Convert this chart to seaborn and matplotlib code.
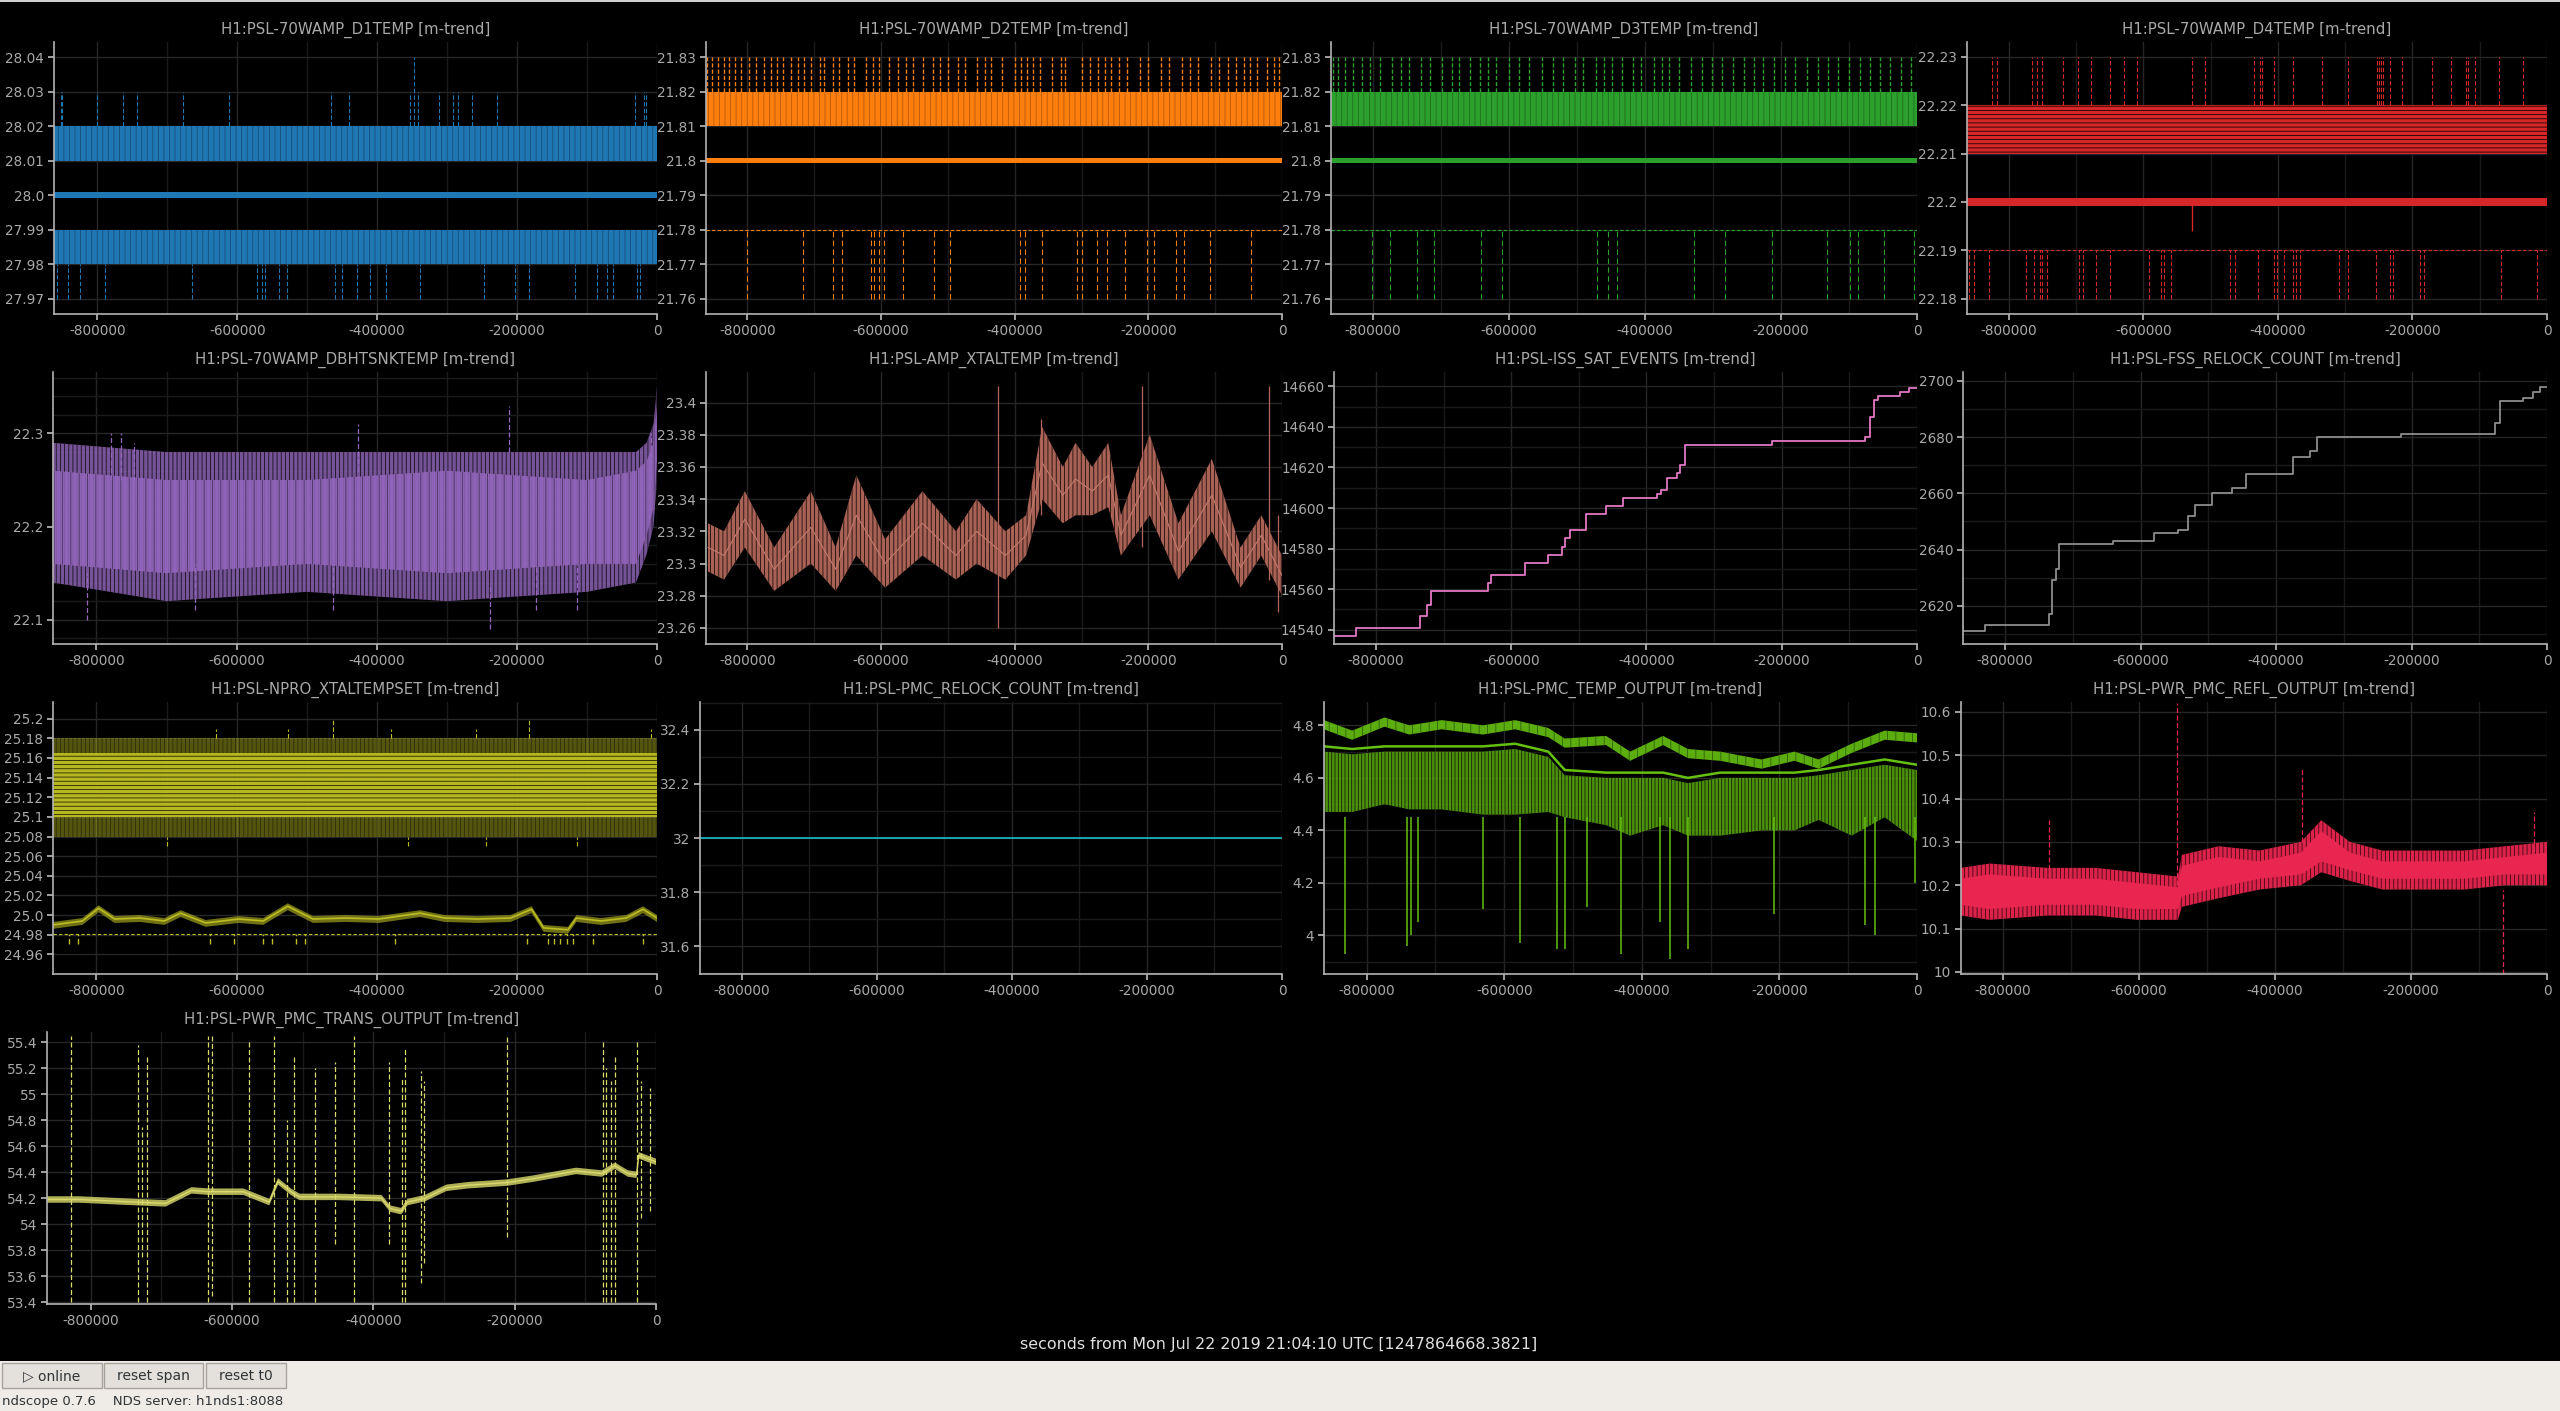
import matplotlib
matplotlib.use("Agg")
from matplotlib import pyplot as plt
from matplotlib.patches import Rectangle
from matplotlib.ticker import MultipleLocator
import seaborn as sns

W, H = 2560, 1411

# ---------------- data ----------------
XLIM = (-862000, 0)
XTICKS = [-800000, -600000, -400000, -200000, 0]
XTICK_LABELS = ['-800000', '-600000', '-400000', '-200000', '0']
T_SPAN = [-862000, 0]

# D1TEMP (blue)
d1_max_lo, d1_max_hi = 28.01, 28.02
d1_mean_lo, d1_mean_hi = 27.9992, 28.0008
d1_min_lo, d1_min_hi = 27.98, 27.99
d1_up_t = [-852000, -851000, -800000, -764000, -744000, -678000, -612000, -466000, -441000,
           -353000, -347000, -341000, -312000, -292000, -285000, -265000, -229000, -32000,
           -18000, -16000]
d1_up_top = [28.03, 28.03, 28.03, 28.03, 28.03, 28.03, 28.03, 28.03, 28.03,
             28.03, 28.04, 28.03, 28.03, 28.03, 28.03, 28.03, 28.03, 28.03,
             28.03, 28.03]
d1_dn_t = [-857000, -842000, -825000, -789000, -665000, -572000, -565000, -560000, -541000,
           -529000, -460000, -451000, -429000, -410000, -387000, -339000, -248000, -203000,
           -183000, -117000, -86000, -72000, -63000, -29000, -24000]
d1_dn_bottom = 27.97

# D2TEMP (orange)
d2_max_lo, d2_max_hi = 21.81, 21.82
d2_mean_lo, d2_mean_hi = 21.7993, 21.8009
d2_min_level = 21.78
d2_up_top = 21.83
d2_dn_bottom = 21.76
d2_up_t = [-860000, -852500, -843750, -835000, -827500, -818750, -810000, -797500, -787500,
           -775000, -765000, -756250, -747500, -735000, -725000, -715000, -705000, -691250,
           -685000, -672500, -662500, -650000, -640000, -622500, -612500, -602500, -587500,
           -575000, -562500, -552500, -537500, -522500, -512500, -500000, -485000, -475000,
           -456250, -443750, -435000, -418750, -400000, -390000, -381250, -372500, -362500,
           -343750, -331250, -325000, -300000, -287500, -275000, -265000, -256250, -243750,
           -231250, -212500, -200000, -181250, -168750, -150000, -137500, -125000, -106250,
           -93750, -81250, -68750, -56250, -47500, -37500, -22500, -12500, -5000]
d2_dn_t = [-800000, -717500, -672500, -658750, -615000, -610000, -603750, -596250, -567500,
           -521250, -497500, -392500, -385000, -358750, -307500, -298750, -277500, -262500,
           -235000, -202500, -191250, -158750, -146250, -107500, -46250]

# D3TEMP (green)
d3_max_lo, d3_max_hi = 21.81, 21.82
d3_mean_lo, d3_mean_hi = 21.7993, 21.8009
d3_min_level = 21.78
d3_up_top = 21.83
d3_dn_bottom = 21.76
d3_up_t = [-859600, -851000, -841300, -829100, -816800, -804600, -790000, -771700, -759500,
           -747300, -729000, -716700, -698400, -683800, -674000, -658100, -643500, -631300,
           -619000, -600700, -584900, -570200, -551900, -536000, -521400, -503100, -490800,
           -472500, -460300, -448100, -433500, -417600, -405400, -387100, -374800, -365100,
           -350400, -332100, -316200, -301600, -286900, -271100, -255200, -240500, -225900,
           -210000, -194100, -179500, -161200, -145300, -130600, -116000, -100100, -84200,
           -69600, -54900, -39100, -23200, -8500]
d3_dn_t = [-801000, -775000, -736000, -711000, -642000, -610000, -470000, -454000, -442000,
           -328000, -283000, -214000, -133000, -98000, -87000, -49000, -5000]

# D4TEMP (red)
d4_max_lo, d4_max_hi = 22.21, 22.22
d4_mean_lo, d4_mean_hi = 22.1992, 22.2009
d4_min_level = 22.19
d4_up_top = 22.23
d4_dn_bottom = 22.18
d4_glitch_t, d4_glitch_bottom = -528000, 22.194
d4_up_t = [-825000, -818000, -765000, -758000, -750000, -719000, -697000, -678000, -650000,
           -629000, -609000, -528000, -509000, -436000, -426000, -423000, -405000, -378000,
           -335000, -296000, -253000, -250000, -247000, -244000, -234000, -215000, -171000,
           -143000, -120000, -117000, -107000, -72000, -35000]
d4_dn_t = [-859000, -851000, -829000, -774000, -763000, -753000, -750000, -743000, -696000,
           -689000, -670000, -649000, -591000, -574000, -569000, -559000, -471000, -463000,
           -430000, -405000, -402000, -391000, -377000, -373000, -367000, -309000, -296000,
           -254000, -233000, -229000, -189000, -183000, -68000, -15000]

# DBHTSNKTEMP (purple)
hs_t = [-862000, -700000, -500000, -300000, -100000, -30000, -15000, -5000, 0]
hs_outer_lo = [22.14, 22.12, 22.13, 22.12, 22.13, 22.14, 22.17, 22.20, 22.25]
hs_outer_hi = [22.29, 22.28, 22.28, 22.28, 22.28, 22.28, 22.29, 22.31, 22.35]
hs_inner_lo = [22.16, 22.15, 22.16, 22.15, 22.16, 22.16, 22.19, 22.22, 22.27]
hs_inner_hi = [22.26, 22.25, 22.25, 22.26, 22.25, 22.26, 22.27, 22.29, 22.33]
hs_up_t = [-779800, -764500, -746900, -426400, -210900, -8200]
hs_up_top = [22.30, 22.30, 22.29, 22.31, 22.33, 22.30]
hs_dn_t = [-812800, -659700, -461800, -238000, -173200, -114300]
hs_dn_bottom = [22.10, 22.11, 22.11, 22.09, 22.11, 22.11]

# AMP_XTALTEMP (brown)
xt_t = [-859000, -835000, -804000, -760000, -705000, -668000, -637000, -594000, -538000,
        -488000, -457000, -414000, -383000, -359000, -328000, -309000, -284000, -260000,
        -241000, -198000, -155000, -105000, -62000, -31000, 0]
xt_lo = [23.295, 23.29, 23.31, 23.283, 23.30, 23.283, 23.305, 23.285, 23.305,
         23.29, 23.30, 23.29, 23.305, 23.34, 23.325, 23.33, 23.33, 23.335,
         23.305, 23.33, 23.29, 23.32, 23.285, 23.305, 23.28]
xt_hi = [23.325, 23.32, 23.345, 23.31, 23.345, 23.31, 23.355, 23.315, 23.345,
         23.32, 23.34, 23.32, 23.33, 23.385, 23.36, 23.375, 23.36, 23.375,
         23.33, 23.38, 23.325, 23.365, 23.31, 23.33, 23.305]
xt_spk_t = [-425000, -360000, -210000, -20000, -6000]
xt_spk_lo = [23.26, 23.33, 23.31, 23.29, 23.27]
xt_spk_hi = [23.41, 23.39, 23.41, 23.41, 23.33]

# ISS_SAT_EVENTS (pink steps)
iss_t = [-862000, -830000, -735000, -725000, -718000, -635000, -630000, -580000, -545000,
         -525000, -520000, -513000, -490000, -460000, -435000, -385000, -378000, -370000,
         -355000, -350000, -343000, -215000, -77000, -70000, -63000, -58000, -25000, -12000, 0]
iss_v = [14537, 14541, 14547, 14552, 14559, 14563, 14567, 14573, 14577,
         14581, 14585, 14589, 14597, 14601, 14605, 14607, 14609, 14615,
         14617, 14621, 14631, 14633, 14635, 14645, 14653, 14655, 14657, 14659, 14659]

# FSS_RELOCK_COUNT (gray steps)
fss_t = [-862000, -830000, -735000, -730000, -725000, -720000, -640000, -580000, -545000,
         -530000, -520000, -495000, -465000, -445000, -375000, -350000, -340000, -215000,
         -77000, -70000, -35000, -20000, -10000, 0]
fss_v = [2611, 2613, 2617, 2629, 2633, 2642, 2643, 2646, 2647,
         2652, 2656, 2660, 2662, 2667, 2673, 2675, 2680, 2681,
         2685, 2693, 2694, 2696, 2698, 2698]

# NPRO_XTALTEMPSET (olive)
np_up_outer = (25.08, 25.18)
np_up_core = (25.10, 25.165)
np_up_spk_t = [-629000, -526600, -461800, -379300, -258000, -182600, -8200]
np_up_spk_top = [25.19, 25.19, 25.20, 25.19, 25.19, 25.20, 25.19]
np_up_dn_t = [-699700, -355800, -243800, -114300]
np_up_dn_bottom = [25.07, 25.07, 25.07, 25.07]
np_t = [-862000, -820000, -797000, -774000, -738000, -703000, -680000, -644000, -597000,
        -562000, -527000, -491000, -444000, -397000, -338000, -303000, -256000, -209000,
        -179000, -162000, -127000, -115000, -80000, -44000, -20000, 0]
np_mean = [24.990, 24.994, 25.007, 24.996, 24.997, 24.994, 25.002, 24.992, 24.996,
           24.994, 25.009, 24.996, 24.997, 24.996, 25.002, 24.997, 24.996, 24.997,
           25.006, 24.987, 24.985, 24.997, 24.994, 24.997, 25.006, 24.997]
np_min_level = 24.981
np_dip_t = [-838700, -827000, -638500, -603100, -561900, -550100, -514800, -503000, -373400,
            -184900, -155500, -147300, -137800, -128400, -120200, -90700, -20000]
np_dip_bottom = 24.971

# PMC_RELOCK_COUNT (cyan)
relock_t = [-862000, 0]
relock_v = [32, 32]

# PMC_TEMP_OUTPUT (bright green)
pt_t = [-862000, -821000, -774000, -738000, -691000, -631000, -584000, -536000, -512000,
        -452000, -417000, -369000, -333000, -286000, -226000, -178000, -143000, -95000,
        -47000, 0]
pt_top = [4.82, 4.78, 4.83, 4.80, 4.82, 4.80, 4.82, 4.79, 4.75,
          4.76, 4.70, 4.76, 4.71, 4.70, 4.67, 4.70, 4.67, 4.73, 4.78, 4.77]
pt_mean = [4.72, 4.71, 4.72, 4.72, 4.72, 4.72, 4.73, 4.70, 4.63,
           4.62, 4.62, 4.62, 4.60, 4.62, 4.62, 4.62, 4.63, 4.65, 4.67, 4.65]
pt_bottom = [4.47, 4.47, 4.50, 4.48, 4.48, 4.46, 4.46, 4.47, 4.45,
             4.42, 4.38, 4.42, 4.38, 4.38, 4.40, 4.40, 4.44, 4.38, 4.45, 4.36]
pt_spk_t = [-830800, -741400, -735500, -726000, -630600, -576900, -523300, -511400, -479200,
            -430300, -374300, -358800, -332600, -207400, -76300, -60800, -2400]
pt_spk_bottom = [3.93, 3.96, 4.00, 4.05, 4.10, 3.97, 3.95, 3.95, 4.11,
                 3.93, 4.05, 3.91, 3.95, 4.08, 4.04, 4.00, 4.20]

# PWR_PMC_REFL_OUTPUT (crimson)
rf_t = [-862000, -820000, -735000, -664000, -603000, -543000, -537000, -483000, -423000,
        -362000, -332000, -290000, -242000, -182000, -122000, -61000, 0]
rf_lo = [10.13, 10.12, 10.13, 10.13, 10.12, 10.12, 10.15, 10.17, 10.19,
         10.20, 10.23, 10.21, 10.19, 10.19, 10.19, 10.20, 10.20]
rf_hi = [10.24, 10.25, 10.24, 10.24, 10.23, 10.22, 10.27, 10.29, 10.28,
         10.30, 10.35, 10.30, 10.28, 10.28, 10.28, 10.29, 10.30]
rf_spk_t = [-733000, -545000, -360000, -65000, -19000]
rf_spk_lo = [10.22, 10.20, 10.30, 9.995, 10.28]
rf_spk_hi = [10.35, 10.62, 10.47, 10.19, 10.37]

# PWR_PMC_TRANS_OUTPUT (pale yellow)
tr_t = [-862000, -816500, -737000, -694200, -657500, -633000, -584100, -547400, -535100,
        -516800, -504600, -449500, -388400, -376300, -360800, -351700, -327200, -296600,
        -266000, -211000, -174300, -113100, -76500, -58100, -39800, -27500, -24500, 0]
tr_mean = [54.19, 54.19, 54.17, 54.16, 54.26, 54.25, 54.25, 54.17, 54.33,
           54.25, 54.21, 54.21, 54.20, 54.12, 54.10, 54.17, 54.20, 54.28,
           54.30, 54.32, 54.35, 54.41, 54.39, 54.45, 54.39, 54.38, 54.53, 54.48]
tr_spk_t = [-828700, -733300, -727800, -719900, -634800, -628100, -576700, -540000, -521700,
            -512500, -483200, -453800, -427500, -377400, -359600, -354700, -333300, -328400,
            -211000, -74600, -70300, -64200, -58100, -26300, -21400, -9200]
tr_spk_hi = [55.45, 55.38, 54.75, 55.30, 55.45, 55.45, 55.40, 55.45, 54.80,
             55.30, 55.20, 55.25, 55.45, 55.25, 55.12, 55.35, 55.18, 55.10,
             55.45, 55.42, 55.20, 55.10, 55.30, 55.42, 55.10, 55.05]
tr_spk_lo = [53.40, 53.40, 53.75, 53.40, 53.40, 53.45, 53.40, 53.40, 53.40,
             53.40, 53.40, 53.85, 53.40, 53.85, 53.40, 53.40, 53.55, 53.70,
             53.90, 53.40, 53.40, 53.40, 53.40, 53.40, 54.05, 54.10]

TXT = '#a9a9a9'
GRID = '#262626'
GRID_MINOR = '#1a1a1a'

sns.set_theme(style='dark', rc={
    'figure.facecolor': 'black',
    'axes.facecolor': 'black',
    'axes.edgecolor': '#b4b4b4',
    'axes.linewidth': 1.2,
    'xtick.color': TXT,
    'ytick.color': TXT,
    'xtick.bottom': True,
    'ytick.left': True,
    'xtick.major.size': 4,
    'ytick.major.size': 4,
    'xtick.labelsize': 9.8,
    'ytick.labelsize': 9.8,
    'hatch.linewidth': 0.6,
    'axes.unicode_minus': False,
})
plt.rcParams['font.family'] = ['DejaVu Sans']

fig = plt.figure(figsize=(W / 100, H / 100), dpi=100)


def place(left, top, right, bottom):
    return fig.add_axes([left / W, 1 - bottom / H, (right - left) / W, (bottom - top) / H])


def style(ax, title, ylim, yticks, ylabels, yminor=None):
    ax.set_xlim(*XLIM)
    ax.set_ylim(*ylim)
    ax.set_xticks(XTICKS)
    ax.set_xticklabels(XTICK_LABELS)
    ax.set_yticks(yticks)
    ax.set_yticklabels(ylabels)
    ax.xaxis.set_minor_locator(MultipleLocator(100000))
    if yminor:
        ax.yaxis.set_minor_locator(MultipleLocator(yminor))
    ax.tick_params(which='minor', length=0)
    ax.tick_params(which='major', color='#b4b4b4', pad=3)
    ax.grid(which='major', color=GRID, lw=1.0)
    ax.grid(which='minor', color=GRID_MINOR, lw=1.0)
    ax.set_axisbelow(True)
    for s in ['top', 'right']:
        ax.spines[s].set_visible(False)
    ax.set_xlabel('')
    ax.set_ylabel('')
    ax.set_title(title, color=TXT, fontsize=10.8, pad=6)


def trace(ax, t, v, color, lw=1.2, **kw):
    sns.lineplot(x=t, y=v, ax=ax, color=color, linewidth=lw, estimator=None,
                 legend=False, **kw)


def band(ax, t, lo, hi, color, alpha=1.0, hatch=None, hatch_color='black'):
    ax.fill_between(t, lo, hi, facecolor=color, alpha=alpha, lw=0,
                    hatch=hatch, edgecolor=hatch_color if hatch else 'none')


def dash_v(ax, t, lo, hi, color, lw=0.8, ls=(0, (4, 2)), alpha=1.0):
    ax.vlines(t, lo, hi, colors=color, linestyles=[ls], linewidth=lw, alpha=alpha)


# ---------------- row 1 ----------------
c = '#1f77b4'
ax = place(54, 42, 657, 314)
band(ax, T_SPAN, d1_max_lo, d1_max_hi, c, hatch='|||', hatch_color='#174f78')
band(ax, T_SPAN, d1_min_lo, d1_min_hi, c, hatch='|||', hatch_color='#174f78')
band(ax, T_SPAN, d1_mean_lo, d1_mean_hi, c)
trace(ax, T_SPAN, [28.0, 28.0], c, lw=1.5)
dash_v(ax, d1_up_t, d1_max_hi, d1_up_top, c)
dash_v(ax, d1_dn_t, d1_dn_bottom, d1_min_lo, c)
style(ax, 'H1:PSL-70WAMP_D1TEMP [m-trend]', (27.9656, 28.0444),
      [27.97, 27.98, 27.99, 28.0, 28.01, 28.02, 28.03, 28.04],
      ['27.97', '27.98', '27.99', '28.0', '28.01', '28.02', '28.03', '28.04'])

c = '#ff7f0e'
ax = place(706, 42, 1282, 314)
band(ax, T_SPAN, d2_max_lo, d2_max_hi, c, hatch='|||', hatch_color='#b85a08')
band(ax, T_SPAN, d2_mean_lo, d2_mean_hi, c)
trace(ax, T_SPAN, [21.8, 21.8], c, lw=1.5)
trace(ax, T_SPAN, [d2_min_level, d2_min_level], c, lw=0.8, linestyle=(0, (3, 2)))
dash_v(ax, d2_up_t, d2_max_hi, d2_up_top, c, lw=1.0, ls=(0, (3, 1.5)))
dash_v(ax, d2_dn_t, d2_dn_bottom, d2_min_level, c, ls=(0, (5, 3)))
style(ax, 'H1:PSL-70WAMP_D2TEMP [m-trend]', (21.7556, 21.8344),
      [21.76, 21.77, 21.78, 21.79, 21.8, 21.81, 21.82, 21.83],
      ['21.76', '21.77', '21.78', '21.79', '21.8', '21.81', '21.82', '21.83'])

c = '#2ca02c'
ax = place(1331, 42, 1917, 314)
band(ax, T_SPAN, d3_max_lo, d3_max_hi, c, hatch='|||', hatch_color='#1f701f')
band(ax, T_SPAN, d3_mean_lo, d3_mean_hi, c)
trace(ax, T_SPAN, [21.8, 21.8], c, lw=1.5)
trace(ax, T_SPAN, [d3_min_level, d3_min_level], c, lw=0.8, linestyle=(0, (3, 2)))
dash_v(ax, d3_up_t, d3_max_hi, d3_up_top, c, lw=1.0, ls=(0, (3, 1.5)))
dash_v(ax, d3_dn_t, d3_dn_bottom, d3_min_level, c, ls=(0, (5, 3)))
style(ax, 'H1:PSL-70WAMP_D3TEMP [m-trend]', (21.7556, 21.8344),
      [21.76, 21.77, 21.78, 21.79, 21.8, 21.81, 21.82, 21.83],
      ['21.76', '21.77', '21.78', '21.79', '21.8', '21.81', '21.82', '21.83'])

c = '#d62728'
ax = place(1967, 42, 2547, 314)
band(ax, T_SPAN, d4_max_lo, d4_max_hi, c, hatch='----', hatch_color='#1a0303')
band(ax, T_SPAN, d4_mean_lo, d4_mean_hi, c)
trace(ax, T_SPAN, [22.2, 22.2], c, lw=1.5)
trace(ax, T_SPAN, [d4_min_level, d4_min_level], c, lw=0.8, linestyle=(0, (3, 2)))
ax.vlines([d4_glitch_t], d4_glitch_bottom, 22.2, colors=c, linewidth=1.0)
dash_v(ax, d4_up_t, d4_max_hi, d4_up_top, c)
dash_v(ax, d4_dn_t, d4_dn_bottom, d4_min_level, c)
style(ax, 'H1:PSL-70WAMP_D4TEMP [m-trend]', (22.1768, 22.2331),
      [22.18, 22.19, 22.2, 22.21, 22.22, 22.23],
      ['22.18', '22.19', '22.2', '22.21', '22.22', '22.23'])

# ---------------- row 2 ----------------
c = '#9467bd'
ax = place(53, 372, 657, 644)
band(ax, hs_t, hs_outer_lo, hs_outer_hi, c, alpha=0.8, hatch='||||', hatch_color='black')
band(ax, hs_t, hs_inner_lo, hs_inner_hi, c, alpha=0.85, hatch='||', hatch_color='#3c2a4f')
dash_v(ax, hs_up_t, [v - 0.05 for v in hs_up_top], hs_up_top, c, lw=0.9)
dash_v(ax, hs_dn_t, hs_dn_bottom, [v + 0.05 for v in hs_dn_bottom], c, lw=0.9)
style(ax, 'H1:PSL-70WAMP_DBHTSNKTEMP [m-trend]', (22.074, 22.366),
      [22.1, 22.2, 22.3], ['22.1', '22.2', '22.3'], yminor=0.02)

c = '#b2675a'
ax = place(706, 372, 1282, 644)
band(ax, xt_t, xt_lo, xt_hi, c, alpha=0.95, hatch='||||', hatch_color='#140806')
trace(ax, xt_t, [(a + b) / 2 for a, b in zip(xt_lo, xt_hi)], '#c27a6c', lw=0.8)
ax.vlines(xt_spk_t, xt_spk_lo, xt_spk_hi, colors=c, linewidth=0.9)
style(ax, 'H1:PSL-AMP_XTALTEMP [m-trend]', (23.250, 23.419),
      [23.26, 23.28, 23.3, 23.32, 23.34, 23.36, 23.38, 23.4],
      ['23.26', '23.28', '23.3', '23.32', '23.34', '23.36', '23.38', '23.4'])

ax = place(1334, 372, 1917, 644)
trace(ax, iss_t, iss_v, '#e377c2', lw=1.3, drawstyle='steps-post')
style(ax, 'H1:PSL-ISS_SAT_EVENTS [m-trend]', (14533, 14667),
      [14540, 14560, 14580, 14600, 14620, 14640, 14660],
      ['14540', '14560', '14580', '14600', '14620', '14640', '14660'], yminor=10)

ax = place(1963, 372, 2547, 644)
trace(ax, fss_t, fss_v, '#8c8c8c', lw=1.3, drawstyle='steps-post')
style(ax, 'H1:PSL-FSS_RELOCK_COUNT [m-trend]', (2606.4, 2703.2),
      [2620, 2640, 2660, 2680, 2700],
      ['2620', '2640', '2660', '2680', '2700'], yminor=10)

# ---------------- row 3 ----------------
c = '#bcbd22'
ax = place(53, 702, 657, 974)
band(ax, T_SPAN, np_up_outer[0], np_up_outer[1], c, alpha=0.45, hatch='||||', hatch_color='black')
band(ax, T_SPAN, np_up_core[0], np_up_core[1], c, alpha=0.95, hatch='----', hatch_color='#1e1e00')
dash_v(ax, np_up_spk_t, np_up_outer[1], np_up_spk_top, c)
dash_v(ax, np_up_dn_t, np_up_dn_bottom, np_up_outer[0], c)
trace(ax, T_SPAN, [np_min_level, np_min_level], c, lw=0.8, linestyle=(0, (3, 2)))
dash_v(ax, np_dip_t, np_dip_bottom, np_min_level, c, lw=1.0)
band(ax, np_t, [v - 0.004 for v in np_mean], [v + 0.003 for v in np_mean], c, alpha=0.6)
trace(ax, np_t, np_mean, c, lw=1.2)
style(ax, 'H1:PSL-NPRO_XTALTEMPSET [m-trend]', (24.940, 25.217),
      [24.96, 24.98, 25.0, 25.02, 25.04, 25.06, 25.08, 25.1, 25.12, 25.14, 25.16, 25.18, 25.2],
      ['24.96', '24.98', '25.0', '25.02', '25.04', '25.06', '25.08', '25.1', '25.12',
       '25.14', '25.16', '25.18', '25.2'])

ax = place(700, 702, 1282, 974)
trace(ax, relock_t, relock_v, '#17becf', lw=1.2)
style(ax, 'H1:PSL-PMC_RELOCK_COUNT [m-trend]', (31.498, 32.502),
      [31.6, 31.8, 32, 32.2, 32.4], ['31.6', '31.8', '32', '32.2', '32.4'], yminor=0.1)

c = '#66c010'
ax = place(1324, 702, 1917, 974)
band(ax, pt_t, pt_bottom, [v - 0.02 for v in pt_mean], c, alpha=0.75, hatch='|||||', hatch_color='black')
band(ax, pt_t, [v - 0.035 for v in pt_top], pt_top, c, alpha=0.9, hatch='||', hatch_color='#2c5a08')
trace(ax, pt_t, pt_mean, c, lw=1.8)
ax.vlines(pt_spk_t, pt_spk_bottom, [4.45] * len(pt_spk_t), colors=c, linewidth=1.1)
style(ax, 'H1:PSL-PMC_TEMP_OUTPUT [m-trend]', (3.853, 4.889),
      [4, 4.2, 4.4, 4.6, 4.8], ['4', '4.2', '4.4', '4.6', '4.8'], yminor=0.1)

c = '#e8264f'
ax = place(1961, 702, 2547, 974)
band(ax, rf_t, rf_lo, rf_hi, c, alpha=0.95, hatch='||||', hatch_color='#3a0612')
band(ax, rf_t, [v + 0.025 for v in rf_lo], [v - 0.025 for v in rf_hi], c)
dash_v(ax, rf_spk_t, rf_spk_lo, rf_spk_hi, c, lw=0.9)
style(ax, 'H1:PSL-PWR_PMC_REFL_OUTPUT [m-trend]', (9.995, 10.623),
      [10, 10.1, 10.2, 10.3, 10.4, 10.5, 10.6],
      ['10', '10.1', '10.2', '10.3', '10.4', '10.5', '10.6'])

# ---------------- row 4 ----------------
c = '#d9d96c'
ax = place(47, 1032, 656, 1304)
band(ax, tr_t, [v - 0.025 for v in tr_mean], [v + 0.025 for v in tr_mean], c, alpha=0.8)
trace(ax, tr_t, tr_mean, c, lw=1.0)
dash_v(ax, tr_spk_t, tr_spk_lo, tr_spk_hi, c, lw=0.9, ls=(0, (4, 2)))
style(ax, 'H1:PSL-PWR_PMC_TRANS_OUTPUT [m-trend]', (53.385, 55.48),
      [53.4, 53.6, 53.8, 54, 54.2, 54.4, 54.6, 54.8, 55, 55.2, 55.4],
      ['53.4', '53.6', '53.8', '54', '54.2', '54.4', '54.6', '54.8', '55', '55.2', '55.4'])

# ---------------- footer ----------------
fig.text(1279 / W, 1 - 1345 / H,
         'seconds from Mon Jul 22 2019 21:04:10 UTC [1247864668.3821]',
         color='#e0e0e0', fontsize=11.4, ha='center', va='center')

fig.add_artist(Rectangle((0, 0), 1, (H - 1361) / H, transform=fig.transFigure,
                         facecolor='#efebe7', edgecolor='none'))
fig.add_artist(Rectangle((0, 1 - 2 / H), 1, 2 / H, transform=fig.transFigure,
                         facecolor='#cfcfcf', edgecolor='none'))
buttons = [('\u25b7 online', 2, 102), ('reset span', 104, 203), ('reset t0', 206, 286)]
for label, x0, x1 in buttons:
    fig.add_artist(Rectangle((x0 / W, 1 - 1388 / H), (x1 - x0) / W, 25 / H,
                             transform=fig.transFigure, facecolor='#e4e1dd',
                             edgecolor='#a8a39d', lw=1))
    fig.text((x0 + x1) / 2 / W, 1 - 1376 / H, label, color='#2e3436', fontsize=10,
             ha='center', va='center')
fig.text(2 / W, 1 - 1402 / H, 'ndscope 0.7.6    NDS server: h1nds1:8088',
         color='#2e3436', fontsize=9.5, ha='left', va='center')

fig.savefig('out.png', dpi=100, facecolor='black')
